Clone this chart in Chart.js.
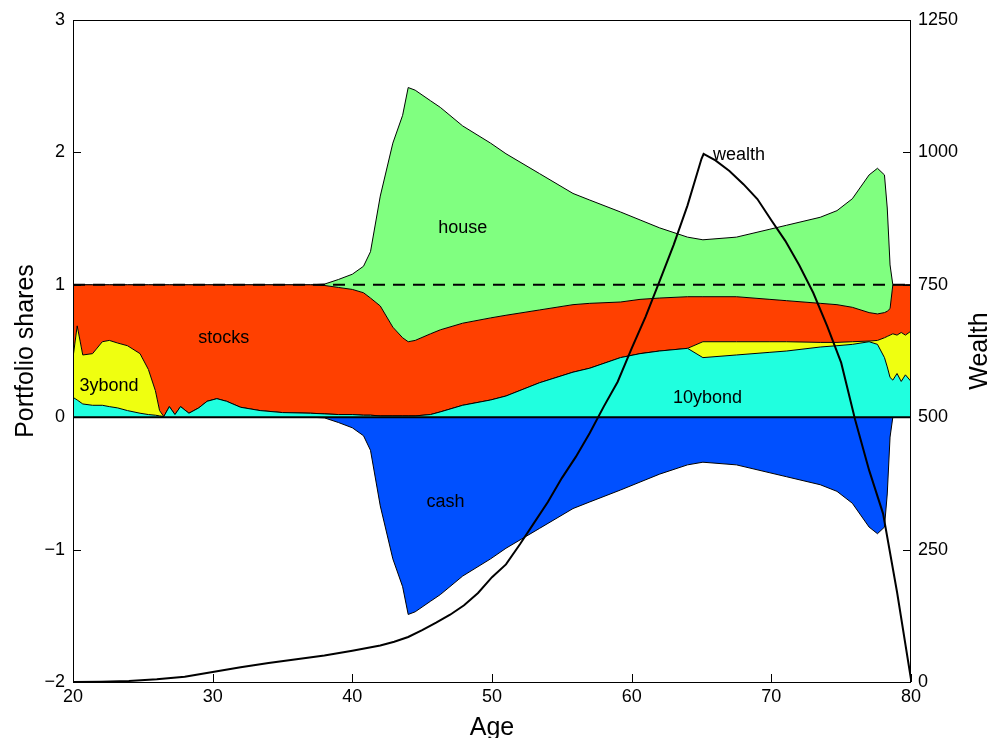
<!DOCTYPE html>
<html><head><meta charset="utf-8">
<script src="https://cdn.jsdelivr.net/npm/chart.js@4/dist/chart.umd.min.js"></script>
<style>html,body{margin:0;padding:0;background:#fff;overflow:hidden}</style>
</head><body>
<canvas id="c" width="991" height="738"></canvas>
<script>
// ---- data ----
const ages = [20,20.3,20.7,21.4,22.1,22.6,23.2,23.9,24.8,25.4,25.9,26.2,26.5,26.9,27.3,27.7,28.3,29,29.6,30.3,31,32,33.4,35,37,38,39,40,40.8,41.3,42,42.9,43.6,44,44.5,45.6,46.3,47.9,49.9,51,53.4,55.8,57,59.2,60.6,62,64,65.1,67.5,69.9,71.1,73.5,74.7,75.8,77,77.6,78.1,78.3,78.5,78.7,79,79.3,79.6,80];
const bond10 = [.15,.13,.10,.09,.09,.08,.07,.05,.03,.02,.015,.01,.005,.08,.02,.08,.03,.07,.12,.14,.12,.075,.05,.035,.03,.025,.02,.02,.015,.015,.01,.01,.01,.01,.01,.02,.04,.09,.13,.16,.26,.34,.37,.45,.48,.50,.52,.45,.47,.49,.50,.53,.54,.55,.57,.55,.45,.38,.30,.28,.33,.27,.32,.27];
const bond3 = [.30,.56,.37,.39,.48,.50,.49,.49,.45,.34,.185,.04,0,0,0,0,0,0,0,0,0,0,0,0,0,0,0,0,0,0,0,0,0,0,0,0,0,0,0,0,0,0,0,0,0,0,0,.12,.10,.08,.07,.035,.025,.02,.005,.03,.15,.23,.32,.35,.29,.37,.30,.38];
const stocks = [.55,.31,.53,.52,.43,.42,.44,.46,.52,.64,.80,.95,.995,.92,.98,.92,.97,.93,.88,.86,.88,.925,.95,.965,.97,.97,.96,.945,.925,.885,.83,.67,.59,.56,.57,.61,.62,.62,.62,.61,.55,.51,.49,.42,.41,.40,.39,.34,.34,.32,.31,.295,.285,.26,.215,.20,.19,.19,.20,.37,.38,.36,.38,.35];
const house = [0,0,0,0,0,0,0,0,0,0,0,0,0,0,0,0,0,0,0,0,0,0,0,0,0,.01,.06,.115,.20,.35,.83,1.39,1.68,1.92,1.89,1.76,1.68,1.49,1.32,1.22,1.03,.84,.78,.68,.60,.53,.45,.43,.45,.53,.57,.65,.71,.82,1.04,1.10,1.04,.78,.33,0,0,0,0,0];
const cash = [0,0,0,0,0,0,0,0,0,0,0,0,0,0,0,0,0,0,0,0,0,0,0,0,0,-.005,-.04,-.08,-.14,-.25,-.67,-1.07,-1.28,-1.49,-1.47,-1.39,-1.34,-1.20,-1.07,-.99,-.84,-.69,-.64,-.55,-.49,-.43,-.36,-.34,-.36,-.42,-.45,-.51,-.56,-.65,-.83,-.88,-.83,-.58,-.15,0,0,0,0,0];
const wealthAges = [20,22,24,26,28,30,32,34,36,38,40,42,43,44,45,46,47,48,49,50,51,52,53,54,55,56,57,58,59,60,61,62,63,64,65,65.15,66,67,68,69,70,71,72,73,74,75,76,77,78,79,80];
const wealth = [0,0.5,2,5,10,19,28,36,43,50,59,69,76,85,98,112,127,145,168,198,222,260,300,340,385,425,470,520,567,630,690,757,825,900,988,997,985,965,940,912,872,833,787,735,672,603,495,400,318,170,5];
const xTicks = [20,30,40,50,60,70,80];
const leftTicks = [-2,-1,0,1,2,3];
const rightTicks = [0,250,500,750,1000,1250];
const seriesNames = ['10ybond','3ybond','stocks','house','cash','wealth'];

// ---- build cumulative stacks ----
const layers = [bond10, bond3, stocks, house];
function cumul(n){ return ages.map((a,i)=>{let s=0;for(let k=0;k<n;k++)s+=layers[k][i];return {x:a,y:s};}); }
const FONT = '"Liberation Sans", Arial, Helvetica, sans-serif';
const colors = ['#20FFDF','#EFFF10','#FF4000','#80FF80','#0050FF'];

const area = (label, data, fill, color) => ({label, data, fill, backgroundColor: color, borderColor:'#000', borderWidth:1, pointRadius:0, tension:0, order:5, yAxisID:'y'});

const datasets = [
  {label:'wealth', data: wealthAges.map((a,i)=>({x:a,y:wealth[i]})), yAxisID:'y2', borderColor:'#000', borderWidth:2, pointRadius:0, fill:false, tension:0, order:0},
  area('10ybond', cumul(1), 'origin', colors[0]),
  area('3ybond', cumul(2), 1, colors[1]),
  area('stocks', cumul(3), 2, colors[2]),
  area('house', cumul(4), 3, colors[3]),
  area('cash', ages.map((a,i)=>({x:a,y:cash[i]})), 'origin', colors[4]),
  {label:'ref1', data: [{x:20,y:1},{x:80,y:1}], yAxisID:'y', borderColor:'#000', borderWidth:2, borderDash:[12,8], pointRadius:0, fill:false, order:1},
  {label:'zero', data: [{x:20,y:0},{x:80,y:0}], yAxisID:'y', borderColor:'#000', borderWidth:2, pointRadius:0, fill:false, order:1}
];

const decor = {
  id:'decor',
  afterDraw(chart){
    const c = chart.ctx, a = chart.chartArea;
    const sx = chart.scales.x, sy = chart.scales.y, sy2 = chart.scales.y2;
    c.save();
    c.strokeStyle = '#000'; c.lineWidth = 1;
    c.strokeRect(a.left+0.5, a.top+0.5, a.right-a.left-1, a.bottom-a.top);
    c.beginPath();
    xTicks.forEach(v=>{const px=Math.round(sx.getPixelForValue(v))+0.5; c.moveTo(px,a.bottom); c.lineTo(px,a.bottom-8);});
    leftTicks.forEach(v=>{const py=Math.round(sy.getPixelForValue(v))+0.5; c.moveTo(a.left,py); c.lineTo(a.left+8,py);});
    rightTicks.forEach(v=>{const py=Math.round(sy2.getPixelForValue(v))+0.5; c.moveTo(a.right,py); c.lineTo(a.right-8,py);});
    c.stroke();
    // axis titles
    c.fillStyle = '#000';
    c.font = '25px ' + FONT;
    c.textAlign = 'center'; c.textBaseline = 'alphabetic';
    c.fillText('Age', (a.left+a.right)/2, 735);
    c.save(); c.translate(33, (a.top+a.bottom)/2); c.rotate(-Math.PI/2); c.fillText('Portfolio shares', 0, 0); c.restore();
    c.save(); c.translate(987, (a.top+a.bottom)/2); c.rotate(-Math.PI/2); c.fillText('Wealth', 0, 0); c.restore();
    // area labels
    c.font = '18px ' + FONT;
    const lab = (t, age, val, align) => { c.textAlign = align || 'center'; c.fillText(t, sx.getPixelForValue(age), sy.getPixelForValue(val)); };
    lab(seriesNames[1], 22.58, 0.196);
    lab(seriesNames[2], 30.8, 0.56);
    lab(seriesNames[3], 47.9, 1.39);
    lab(seriesNames[4], 46.67, -0.68);
    lab(seriesNames[0], 65.43, 0.106);
    lab(seriesNames[5], 65.82, 1.945, 'left');
    c.restore();
  }
};

new Chart(document.getElementById('c'), {
  type:'line',
  data:{datasets},
  options:{
    responsive:false, animation:false, devicePixelRatio:1,
    layout:{padding:{top:20,left:0,right:0,bottom:0}},
    plugins:{legend:{display:false}, tooltip:{enabled:false}, filler:{propagate:false}},
    scales:{
      x:{type:'linear', min:20, max:80, position:'bottom',
         grid:{display:false, drawTicks:false}, border:{display:false},
         ticks:{stepSize:10, color:'#000', font:{size:18, family:FONT}, padding:4, maxRotation:0,
                callback:v=>xTicks.includes(v)?String(v):''},
         afterFit(s){ s.height = 56; }},
      y:{type:'linear', min:-2, max:3, position:'left',
         grid:{display:false, drawTicks:false}, border:{display:false},
         ticks:{stepSize:1, color:'#000', font:{size:18, family:FONT}, padding:8,
                callback:v=>leftTicks.includes(v)?String(v).replace('-','\u2212'):''},
         afterFit(s){ s.width = 73; }},
      y2:{type:'linear', min:0, max:1250, position:'right',
         grid:{display:false, drawTicks:false}, border:{display:false},
         ticks:{stepSize:250, color:'#000', font:{size:18, family:FONT}, padding:7,
                callback:v=>rightTicks.includes(v)?String(v):''},
         afterFit(s){ s.width = 80; }}
    }
  },
  plugins:[decor]
});
</script>
</body></html>
